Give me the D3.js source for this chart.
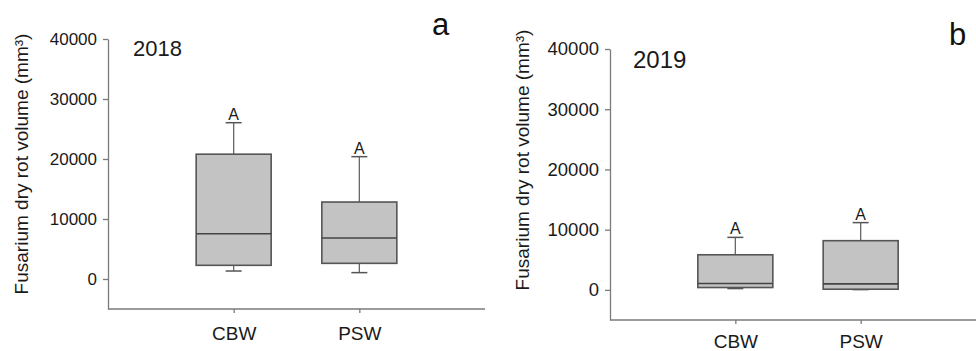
<!DOCTYPE html>
<html>
<head>
<meta charset="utf-8">
<script src="https://cdn.jsdelivr.net/npm/d3@7"></script>
<style>
	body { margin: 0; background: #fff; }
	svg { display: block; font-family: Arial, "Liberation Sans", sans-serif; }
</style>
</head>
<body>
<div id="chart"></div>
<script>
var categories = ["CBW", "PSW"];
var yTicks = [0, 10000, 20000, 30000, 40000];

// 2018 (panel a)
var low2018 = [1330, 1060];
var q1_2018 = [2280, 2610];
var median2018 = [7550, 6830];
var q3_2018 = [20800, 12830];
var high2018 = [26050, 20390];
var letters2018 = ["A", "A"];

// 2019 (panel b)
var low2019 = [220, 50];
var q1_2019 = [390, 110];
var median2019 = [1060, 1000];
var q3_2019 = [5830, 8170];
var high2019 = [8720, 11170];
var letters2019 = ["A", "A"];

var svgWidth = 976;
var svgHeight = 351;

var svg = d3.select("#chart")
	.append("svg")
	.attr("width", svgWidth)
	.attr("height", svgHeight);

function drawPanel(opt){
	var data = categories.map(function(c, i){
		return {cat: c, low: opt.low[i], q1: opt.q1[i], med: opt.med[i], q3: opt.q3[i], high: opt.high[i], letter: opt.letters[i]};
	});

	var x = d3.scalePoint()
		.domain(categories)
		.range([opt.left, opt.right])
		.padding(1);

	var y = d3.scaleLinear()
		.domain([-5000, 40000])
		.range([opt.bottom, opt.top]);

	var g = svg.append("g");
	var boxHalf = 37.5;
	var capHalf = 8;

	// y axis
	var yAxis = g.append("g")
		.attr("transform", "translate(" + opt.left + ",0)")
		.call(d3.axisLeft(y).tickValues(yTicks).tickFormat(d3.format("d"))
			.tickSize(5).tickSizeOuter(0).tickPadding(6));
	yAxis.selectAll("path, line").attr("stroke", "#7a7a7a").attr("stroke-width", 1.3);
	yAxis.selectAll("text")
		.attr("fill", "#1a1a1a")
		.style("font-size", opt.tickFont + "px");

	// x axis
	var xAxis = g.append("g")
		.attr("transform", "translate(0," + opt.bottom + ")")
		.call(d3.axisBottom(x).tickSize(4).tickSizeOuter(0).tickPadding(opt.xPad));
	xAxis.selectAll("path, line").attr("stroke", "#7a7a7a").attr("stroke-width", 1.3);
	xAxis.select(".domain").attr("d", "M" + opt.left + ",0H" + opt.right);
	xAxis.selectAll("text")
		.attr("fill", "#1a1a1a")
		.style("font-size", "19px");

	var box = g.selectAll(".box")
		.data(data)
		.enter()
		.append("g")
		.attr("class", "box");

	// whiskers
	box.append("line")
		.attr("x1", function(d){ return x(d.cat); })
		.attr("x2", function(d){ return x(d.cat); })
		.attr("y1", function(d){ return y(d.high); })
		.attr("y2", function(d){ return y(d.q3); })
		.attr("stroke", "#666")
		.attr("stroke-width", 1.3);
	box.append("line")
		.attr("x1", function(d){ return x(d.cat); })
		.attr("x2", function(d){ return x(d.cat); })
		.attr("y1", function(d){ return y(d.q1); })
		.attr("y2", function(d){ return y(d.low); })
		.attr("stroke", "#666")
		.attr("stroke-width", 1.3);
	box.append("line")
		.attr("x1", function(d){ return x(d.cat) - capHalf; })
		.attr("x2", function(d){ return x(d.cat) + capHalf; })
		.attr("y1", function(d){ return y(d.high); })
		.attr("y2", function(d){ return y(d.high); })
		.attr("stroke", "#555")
		.attr("stroke-width", 1.5);
	box.append("line")
		.attr("x1", function(d){ return x(d.cat) - capHalf; })
		.attr("x2", function(d){ return x(d.cat) + capHalf; })
		.attr("y1", function(d){ return y(d.low); })
		.attr("y2", function(d){ return y(d.low); })
		.attr("stroke", "#555")
		.attr("stroke-width", 1.5);

	box.append("rect")
		.attr("x", function(d){ return x(d.cat) - boxHalf; })
		.attr("width", boxHalf * 2)
		.attr("y", function(d){ return y(d.q3); })
		.attr("height", function(d){ return y(d.q1) - y(d.q3); })
		.attr("fill", "#c3c3c3")
		.attr("stroke", "#555")
		.attr("stroke-width", 1.6);

	box.append("line")
		.attr("x1", function(d){ return x(d.cat) - boxHalf; })
		.attr("x2", function(d){ return x(d.cat) + boxHalf; })
		.attr("y1", function(d){ return y(d.med); })
		.attr("y2", function(d){ return y(d.med); })
		.attr("stroke", "#444")
		.attr("stroke-width", 1.6);

	box.append("text")
		.attr("x", function(d){ return x(d.cat); })
		.attr("y", function(d){ return y(d.high) - 3; })
		.attr("text-anchor", "middle")
		.attr("fill", "#1a1a1a")
		.style("font-size", "16px")
		.text(function(d){ return d.letter; });

	// y label
	g.append("text")
		.attr("transform", "translate(" + opt.labelX + "," + opt.labelY + ") rotate(-90)")
		.attr("text-anchor", "middle")
		.attr("fill", "#1a1a1a")
		.style("font-size", "19px")
		.text("Fusarium dry rot volume (mm³)");

	g.append("text")
		.attr("x", opt.yearX)
		.attr("y", opt.yearY)
		.attr("fill", "#1a1a1a")
		.style("font-size", opt.yearFont + "px")
		.text(opt.year);

	g.append("text")
		.attr("x", opt.tagX)
		.attr("y", opt.tagY)
		.attr("fill", "#111")
		.style("font-size", "31px")
		.text(opt.tag);
}

drawPanel({
	low: low2018, q1: q1_2018, med: median2018, q3: q3_2018, high: high2018, letters: letters2018,
	left: 108, right: 485, top: 39, bottom: 309, tickFont: 17, xPad: 14,
	labelX: 28, labelY: 164,
	year: "2018", yearX: 133, yearY: 56, yearFont: 22,
	tag: "a", tagX: 432, tagY: 35
});

drawPanel({
	low: low2019, q1: q1_2019, med: median2019, q3: q3_2019, high: high2019, letters: letters2019,
	left: 610, right: 986, top: 49, bottom: 320, tickFont: 18.5, xPad: 11,
	labelX: 529, labelY: 160,
	year: "2019", yearX: 633, yearY: 68, yearFont: 24,
	tag: "b", tagX: 949, tagY: 45
});
</script>
</body>
</html>
